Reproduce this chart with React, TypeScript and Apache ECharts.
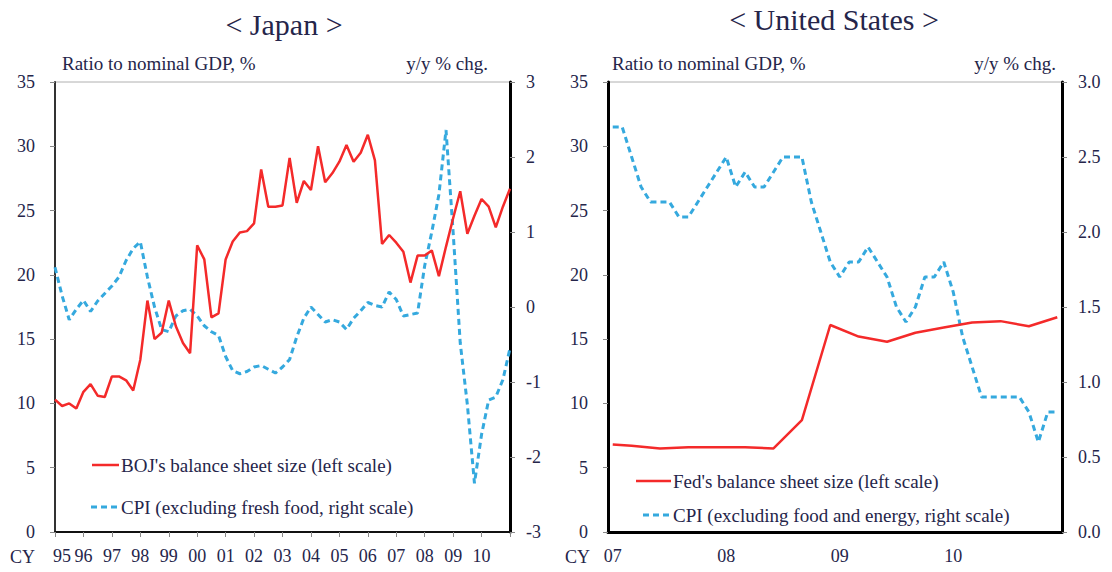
import React, { useEffect, useRef } from "react";
import * as echarts from "echarts";

// ---------- data ----------
const jpYearLabels = ["95", "96", "97", "98", "99", "00", "01", "02", "03", "04", "05", "06", "07", "08", "09", "10", "11"];
// quarterly, 95Q1 .. 11Q1
const jpBOJ = [
  10.3, 9.8, 10.0, 9.6, 10.9, 11.5, 10.6, 10.5, 12.1, 12.1,
  11.8, 11.0, 13.4, 18.0, 15.0, 15.5, 18.0, 16.0, 14.7, 13.9,
  22.3, 21.2, 16.7, 17.0, 21.2, 22.6, 23.3, 23.4, 24.0, 28.2,
  25.3, 25.3, 25.4, 29.1, 25.6, 27.3, 26.6, 30.0, 27.2, 27.9,
  28.8, 30.1, 28.8, 29.5, 30.9, 28.9, 22.4, 23.1, 22.5, 21.8,
  19.4, 21.5, 21.5, 21.9, 19.9, 22.2, 24.4, 26.5, 23.2, 24.6,
  25.9, 25.3, 23.7, 25.3, 26.7,
];
const jpCPI = [
  0.53, 0.15, -0.17, -0.03, 0.09, -0.06, 0.08, 0.18, 0.28, 0.4,
  0.62, 0.78, 0.87, 0.4, 0.0, -0.3, -0.33, -0.12, -0.05, -0.03,
  -0.12, -0.25, -0.33, -0.38, -0.66, -0.85, -0.89, -0.86, -0.8, -0.78,
  -0.83, -0.88, -0.8, -0.7, -0.4, -0.15, 0.0, -0.1, -0.2, -0.17,
  -0.2, -0.3, -0.15, -0.05, 0.06, 0.02, 0.0, 0.2, 0.1, -0.12,
  -0.1, -0.08, 0.55, 1.0, 1.5, 2.36, 1.0, -0.48, -1.3, -2.35,
  -1.7, -1.24, -1.2, -0.97, -0.55,
];
const jpLeftTicks = { min: 0, max: 35, interval: 5 };
const jpRightTicks = { min: -3, max: 3, interval: 1 };

const usYearLabels = ["07", "08", "09", "10"];
// monthly, Jan 07 .. Dec 10
const usCPI = [
  2.7, 2.7, 2.5, 2.3, 2.2, 2.2, 2.2, 2.1, 2.1, 2.2, 2.3, 2.4,
  2.5, 2.3, 2.4, 2.3, 2.3, 2.4, 2.5, 2.5, 2.5, 2.2, 2.0, 1.8,
  1.7, 1.8, 1.8, 1.9, 1.8, 1.7, 1.5, 1.4, 1.5, 1.7, 1.7, 1.8,
  1.6, 1.3, 1.1, 0.9, 0.9, 0.9, 0.9, 0.9, 0.8, 0.6, 0.8, 0.8,
];
// Fed balance sheet: month index -> value
const usFedMonths = [0, 2, 5, 8, 11, 14, 17, 20, 23, 26, 29, 32, 35, 38, 41, 44, 47];
const usFedValues = [6.8, 6.7, 6.5, 6.6, 6.6, 6.6, 6.5, 8.7, 16.1, 15.2, 14.8, 15.5, 15.9, 16.3, 16.4, 16.0, 16.7];
const usLeftTicks = { min: 0, max: 35, interval: 5 };
const usRightTicks = { min: 0, max: 3, interval: 0.5 };

// ---------- styles ----------
const FONT = '"Liberation Serif", "Times New Roman", serif';
const TXT = "#25254a";
const RED = "#f42a2a";
const BLUE = "#35a9de";

const jpCategories: string[] = [];
jpYearLabels.forEach((y, yi) => {
  for (let q = 1; q <= 4; q++) {
    if (yi === jpYearLabels.length - 1 && q > 1) break;
    jpCategories.push(`${y}-Q${q}`);
  }
});
const usCategories: string[] = [];
usYearLabels.forEach((y) => {
  for (let m = 1; m <= 12; m++) usCategories.push(`${y}-${m}`);
});

const axisLabelBase = { color: TXT, fontFamily: FONT, fontSize: 18 };

function text(x: number, y: number, t: string, size: number, align = "left") {
  return {
    type: "text",
    x,
    y,
    style: {
      text: t,
      fill: TXT,
      font: `${size}px ${FONT}`,
      textAlign: align,
      textVerticalAlign: "middle",
    },
  };
}

function legLine(x1: number, x2: number, y: number, color: string, dashed: boolean) {
  return {
    type: "line",
    shape: { x1, y1: y, x2, y2: y },
    style: { stroke: color, lineWidth: dashed ? 3 : 2.5, lineDash: dashed ? [6, 4] : null },
  };
}

export default function App() {
  const ref = useRef<HTMLDivElement>(null);
  useEffect(() => {
    if (!ref.current) return;
    const chart = echarts.init(ref.current, null, { renderer: "svg" });
    const option = {
      animation: false,
      backgroundColor: "#ffffff",
      grid: [
        { left: 55, top: 82, width: 455, height: 450, show: true, borderColor: "#b0b0b0", borderWidth: 1 },
        { left: 608, top: 82, width: 454, height: 450, show: true, borderColor: "#b0b0b0", borderWidth: 1 },
      ],
      xAxis: [
        {
          type: "category",
          gridIndex: 0,
          data: jpCategories,
          boundaryGap: false,
          axisLine: { lineStyle: { color: "#111", width: 2 } },
          axisTick: { interval: (i: number) => i % 4 === 0, length: 5, lineStyle: { color: "#888" } },
          axisLabel: {
            ...axisLabelBase,
            margin: 15,
            interval: (i: number) => i % 4 === 0 && i < jpCategories.length - 1,
            formatter: (v: string, i: number) => (i === 0 ? `{first|${v.slice(0, 2)}}` : v.slice(0, 2)),
            rich: { first: { ...axisLabelBase, padding: [0, 0, 0, 14] } },
          },
          splitLine: { show: false },
        },
        {
          type: "category",
          gridIndex: 1,
          data: usCategories,
          boundaryGap: true,
          axisLine: { lineStyle: { color: "#000", width: 3 } },
          axisTick: { interval: (i: number) => i % 12 === 0, length: 5, alignWithLabel: false, lineStyle: { color: "#888" } },
          axisLabel: {
            ...axisLabelBase,
            margin: 15,
            interval: (i: number) => i % 12 === 0,
            formatter: (v: string) => v.slice(0, 2),
          },
          splitLine: { show: false },
        },
      ],
      yAxis: [
        {
          type: "value",
          gridIndex: 0,
          position: "left",
          ...jpLeftTicks,
          axisLine: { show: true, lineStyle: { color: "#333", width: 2 } },
          axisTick: { show: true, length: 5, lineStyle: { color: "#888" } },
          axisLabel: { ...axisLabelBase, margin: 20 },
          splitLine: { show: false },
        },
        {
          type: "value",
          gridIndex: 0,
          position: "right",
          ...jpRightTicks,
          axisLine: { show: true, lineStyle: { color: "#000", width: 3 } },
          axisTick: { show: true, length: 5, lineStyle: { color: "#888" } },
          axisLabel: { ...axisLabelBase, margin: 16 },
          splitLine: { show: false },
        },
        {
          type: "value",
          gridIndex: 1,
          position: "left",
          ...usLeftTicks,
          axisLine: { show: true, lineStyle: { color: "#000", width: 3 } },
          axisTick: { show: true, length: 5, lineStyle: { color: "#888" } },
          axisLabel: { ...axisLabelBase, margin: 20 },
          splitLine: { show: false },
        },
        {
          type: "value",
          gridIndex: 1,
          position: "right",
          ...usRightTicks,
          axisLine: { show: true, lineStyle: { color: "#000", width: 3 } },
          axisTick: { show: true, length: 5, lineStyle: { color: "#888" } },
          axisLabel: { ...axisLabelBase, margin: 16, formatter: (v: number) => v.toFixed(1) },
          splitLine: { show: false },
        },
      ],
      series: [
        {
          name: "CPI (excluding fresh food, right scale)",
          type: "line",
          xAxisIndex: 0,
          yAxisIndex: 1,
          data: jpCPI,
          showSymbol: false,
          symbol: "none",
          lineStyle: { color: BLUE, width: 3, type: [6, 4] },
        },
        {
          name: "BOJ's balance sheet size (left scale)",
          type: "line",
          xAxisIndex: 0,
          yAxisIndex: 0,
          data: jpBOJ,
          showSymbol: false,
          symbol: "none",
          lineStyle: { color: RED, width: 2.5 },
        },
        {
          name: "CPI (excluding food and energy, right scale)",
          type: "line",
          xAxisIndex: 1,
          yAxisIndex: 3,
          data: usCPI,
          showSymbol: false,
          symbol: "none",
          lineStyle: { color: BLUE, width: 3, type: [6, 4] },
        },
        {
          name: "Fed's balance sheet size (left scale)",
          type: "line",
          xAxisIndex: 1,
          yAxisIndex: 2,
          data: usFedMonths.map((m, i) => [m, usFedValues[i]]),
          showSymbol: false,
          symbol: "none",
          lineStyle: { color: RED, width: 2.5 },
        },
      ],
      graphic: [
        text(284, 24, "< Japan >", 30, "center"),
        text(834, 19, "< United States >", 30, "center"),
        text(62, 63, "Ratio to nominal GDP, %", 19),
        text(488, 63, "y/y % chg.", 19, "right"),
        text(612, 63, "Ratio to nominal GDP, %", 19),
        text(1056, 63, "y/y % chg.", 19, "right"),
        text(10, 557, "CY", 18),
        text(565, 557, "CY", 18),
        legLine(92, 119, 465, RED, false),
        text(121, 465, "BOJ's balance sheet size (left scale)", 19),
        legLine(91, 119, 507, BLUE, true),
        text(121, 507, "CPI (excluding fresh food, right scale)", 19),
        legLine(636, 671, 481, RED, false),
        text(673, 481, "Fed's balance sheet size (left scale)", 19),
        legLine(643, 671, 515, BLUE, true),
        text(673, 515, "CPI (excluding food and energy, right scale)", 19),
      ],
    };
    chart.setOption(option as any);
    return () => chart.dispose();
  }, []);
  return (
    <div
      ref={ref}
      style={{ position: "absolute", left: 0, top: 0, width: 1112, height: 572, background: "#fff" }}
    />
  );
}
